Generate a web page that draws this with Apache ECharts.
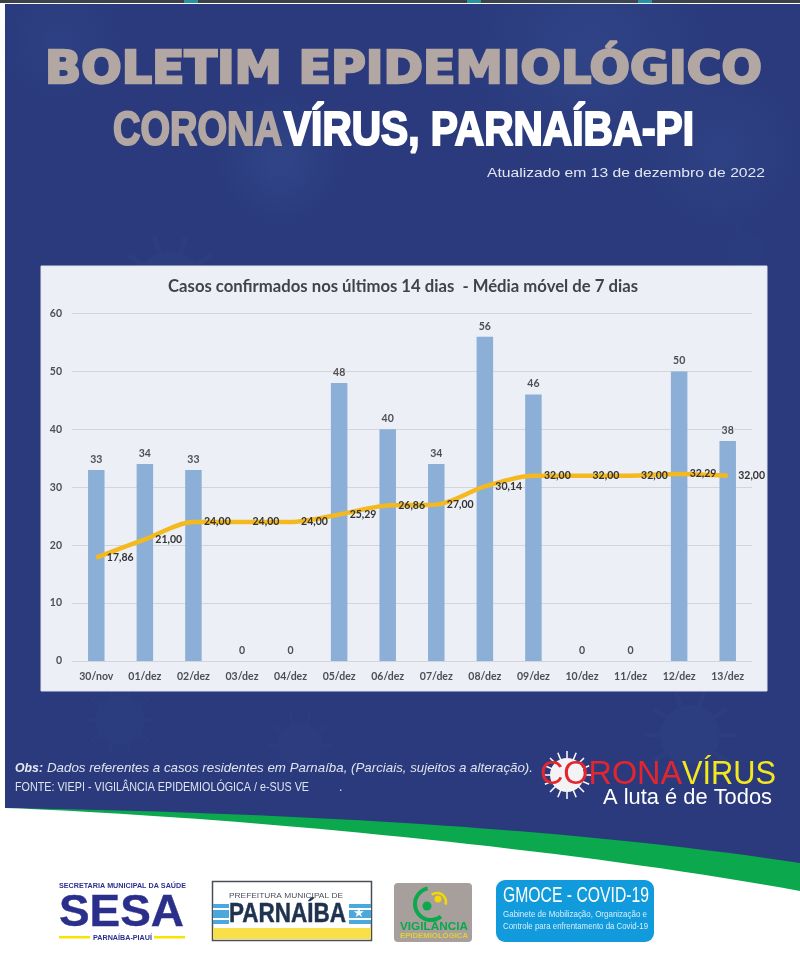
<!DOCTYPE html>
<html><head><meta charset="utf-8">
<style>html,body{margin:0;padding:0;background:#fff}#c{width:800px;height:980px}</style>
<script src="https://cdn.jsdelivr.net/npm/echarts@6/dist/echarts.min.js"></script>
</head><body><div id="c"></div>
<script>
const categories = ['30/nov','01/dez','02/dez','03/dez','04/dez','05/dez','06/dez','07/dez','08/dez','09/dez','10/dez','11/dez','12/dez','13/dez'];
const casos = [33,34,33,0,0,48,40,34,56,46,0,0,50,38];
const mediaMovel = [17.86,21.00,24.00,24.00,24.00,25.29,26.86,27.00,30.14,32.00,32.00,32.00,32.29,32.00];
const yMin = 0, yMax = 60, yStep = 10;
const chartTitle = 'Casos confirmados nos últimos 14 dias  - Média móvel de 7 dias';

const meas = document.createElement('canvas').getContext('2d');
function fitScale(text, font, w){ meas.font = font; return w / meas.measureText(text).width; }
const SANS = '"Liberation Sans"';
function T(text, x, y, size, fill, o){
  o = o || {};
  const family = o.family || SANS, weight = o.weight || 'normal', fs = o.style || 'normal';
  const font = fs+' '+weight+' '+size+'px '+family;
  const el = {type:'text', x:x, y:y, z:o.z||-5, silent:true,
    style:{text:text, fill:fill, font:font, align:o.align||'left', verticalAlign:'middle', opacity:o.opacity==null?1:o.opacity}};
  if (o.w) { el.scaleX = fitScale(text, font, o.w); el.scaleY = 1; }
  if (o.stroke) { el.style.stroke = o.stroke; el.style.lineWidth = o.lw||1; }
  return el;
}
function R(x,y,w,h,fill,o){ o=o||{};
  return {type:'rect', z:o.z||-8, silent:true, shape:{x:x,y:y,width:w,height:h,r:o.r||0},
    style:{fill:fill, stroke:o.stroke||null, lineWidth:o.lw||0, opacity:o.opacity==null?1:o.opacity}};
}
function P(points,fill,z){ return {type:'polygon', z:z||-9, silent:true, shape:{points:points}, style:{fill:fill}}; }
function Glow(cx,cy,r,op){ return {type:'circle', z:-9, silent:true, shape:{cx:cx,cy:cy,r:r},
  style:{fill:{type:'radial',x:.5,y:.5,r:.5,colorStops:[{offset:0,color:'rgba(70,110,180,'+op+')'},{offset:1,color:'rgba(70,110,180,0)'}]}}}; }
function Virus(cx,cy,r,op){
  const out=[{type:'circle', z:-9, silent:true, shape:{cx:cx,cy:cy,r:r}, style:{fill:'rgba(70,100,170,'+op+')'}}];
  for(let i=0;i<10;i++){const a=i*Math.PI/5;
    out.push({type:'line', z:-9, silent:true, shape:{x1:cx+Math.cos(a)*r,y1:cy+Math.sin(a)*r,x2:cx+Math.cos(a)*r*1.5,y2:cy+Math.sin(a)*r*1.5},
      style:{stroke:'rgba(70,100,170,'+op+')',lineWidth:r*0.16}});}
  return out;
}
function curve(p0,p1,p2,p3){ const o=[]; for(let i=0;i<=40;i++){const t=i/40,u=1-t;
  o.push([0,1].map(k=>u*u*u*p0[k]+3*u*u*t*p1[k]+3*u*t*t*p2[k]+t*t*t*p3[k]));} return o; }

const upperEdge = curve([5,808],[250,812],[550,825],[800,863]);
const lowerEdge = curve([5,808],[200,815],[550,845],[800,891]);

const BLUE = '#2a3a7c';
const deco = [
  R(0,0,800,980,'#ffffff',{z:-10}),
  R(5,4,795,880,BLUE,{z:-10}),
  R(0,0,800,3,'#3c4146',{z:-9}),
  R(184,0,14,3,'#1fb8c4',{z:-9,opacity:.7}), R(467,0,14,3,'#1fb8c4',{z:-9,opacity:.7}), R(638,0,14,3,'#1fb8c4',{z:-9,opacity:.7}),
  Glow(590,50,130,.18), Glow(280,160,70,.2), Glow(720,150,90,.14), Glow(60,40,70,.12),
  ...Virus(170,285,34,.10), ...Virus(120,720,24,.08), ...Virus(690,735,30,.10), ...Virus(300,745,22,.07), ...Virus(745,250,18,.06),
  P(upperEdge.concat([[800,980],[5,980]]),'#0ba84d',-7),
  P(lowerEdge.concat([[800,980],[5,980]]),'#ffffff',-6),
  R(0,808,5,172,'#ffffff',{z:-6}),

  T('BOLETIM EPIDEMIOLÓGICO',45,72,44,'#b3a7a3',{family:'"DejaVu Sans"',weight:'bold',w:717,stroke:'#b3a7a3',lw:2.4}),
  T('CORONA',113,131,49,'#b3a7a3',{weight:'bold',w:169,stroke:'#b3a7a3',lw:2.2}),
  T('VÍRUS, PARNAÍBA-PI',284,131,49,'#ffffff',{weight:'bold',w:410,stroke:'#ffffff',lw:2.2}),
  T('Atualizado em 13 de dezembro de 2022',487,173,13.5,'#e3e7f1',{w:278}),

  R(41,266,726,425,'#eceff6',{stroke:'#dfe3ee',lw:1}),

  T('Obs:',15,769,12.5,'#e6e9f2',{weight:'bold',style:'italic',w:28}),
  T('Dados referentes a casos residentes em Parnaíba, (Parciais, sujeitos a alteração).',47,769,12.2,'#dfe3ee',{style:'italic',w:486}),
  T('FONTE: VIEPI - VIGILÂNCIA EPIDEMIOLÓGICA / e-SUS VE',15,788,12,'#dfe3ee',{w:294}),
  T('.',339,788,12,'#dfe3ee'),

  // logo Coronavírus
  ...Array.from({length:16},(_,i)=>{const a=i*Math.PI/8;return {type:'line',z:-5,silent:true,
    shape:{x1:567+Math.cos(a)*14,y1:775+Math.sin(a)*14,x2:567+Math.cos(a)*24,y2:775+Math.sin(a)*24},style:{stroke:'#ffffff',lineWidth:1.5}};}),
  {type:'circle',z:-5,silent:true,shape:{cx:567,cy:775,r:17},style:{fill:'#f3f3f5'}},
  T('CORONA',540,775,33,'#e3262e',{w:142}),
  T('VÍRUS',682,775,33,'#f4e71d',{w:94}),
  T('A luta é de Todos',603,798,22,'#ffffff',{w:169}),

  // SESA
  T('SECRETARIA MUNICIPAL DA SAÚDE',59,886,8,'#2b2f8c',{weight:'bold',w:127}),
  T('SESA',59,914,44,'#2b2f8c',{weight:'bold',w:125,stroke:'#2b2f8c',lw:.4}),
  R(59,936,31,2.5,'#f6e500',{z:-5}), R(154,936,31,2.5,'#f6e500',{z:-5}),
  T('PARNAÍBA-PIAUÍ',93,938,7.5,'#2b2f8c',{weight:'bold',w:59}),

  // Prefeitura
  R(212.5,881.5,159,59,'#ffffff',{stroke:'#4a4f55',lw:1.5,z:-5}),
  R(213,904,158,20,'#4aa8dc',{z:-5}),
  R(213,908,158,2,'#ffffff',{z:-4}), R(213,918,158,2,'#ffffff',{z:-4}),
  R(213,928,158,11,'#f7e04a',{z:-5}),
  R(229,903,120,23,'#ffffff',{z:-4}),
  T('PREFEITURA MUNICIPAL DE',229,896,8,'#4a4f55',{w:114}),
  T('PARNAÍBA',229,915,27,'#1f3350',{weight:'bold',w:117,z:-3,stroke:'#1f3350',lw:.5}),
  T('★',353,914,13,'#ffffff',{z:-3,family:'"DejaVu Sans"'}),

  // Vigilância
  R(394,883,78,59,'#a69f9b',{r:4,z:-5}),
  {type:'arc',z:-4,silent:true,shape:{cx:431,cy:904,r:16,startAngle:0.9,endAngle:4.5,clockwise:true},style:{stroke:'#0ba84d',lineWidth:4,fill:null}},
  {type:'circle',z:-4,silent:true,shape:{cx:427,cy:906,r:4.5},style:{fill:'#0ba84d'}},
  {type:'circle',z:-4,silent:true,shape:{cx:438,cy:899,r:3.5},style:{fill:'#f5d800'}},
  {type:'arc',z:-4,silent:true,shape:{cx:437,cy:902,r:9,startAngle:-2.2,endAngle:0.3,clockwise:true},style:{stroke:'#f5d800',lineWidth:2.5,fill:null}},
  T('VIGILÂNCIA',400,927,10,'#0ba84d',{weight:'bold',w:68}),
  T('EPIDEMIOLÓGICA',400,936,7.5,'#e3cf3a',{weight:'bold',w:68}),

  // GMOCE
  R(496,880,158,62,'#119bdc',{r:9,z:-5}),
  T('GMOCE - COVID-19',503,896,22,'#ffffff',{w:146}),
  T('Gabinete de Mobilização, Organização e',503,915,9,'#d8eef9',{w:144}),
  T('Controle para enfrentamento da Covid-19',503,927,9,'#d8eef9',{w:145})
];

const FONT = 'Lato';
const chart = echarts.init(document.getElementById('c'), null, {renderer:'canvas', width:800, height:980});
chart.setOption({
  animation:false,
  backgroundColor:'#ffffff',
  graphic:{elements:deco},
  title:{text:chartTitle,left:398,top:273,textAlign:'center',textStyle:{fontFamily:FONT,fontSize:16.7,fontWeight:'bold',color:'#404347'}},
  grid:{left:72,right:48,top:313.5,bottom:319,containLabel:false},
  legend:{show:false},
  xAxis:{type:'category',data:categories,
    axisTick:{show:false},axisLine:{lineStyle:{color:'#d4d5d8',width:1}},
    axisLabel:{fontFamily:FONT,fontSize:10.5,fontWeight:'bold',color:'#4d4f53',margin:10,interval:0}},
  yAxis:{type:'value',min:yMin,max:yMax,interval:yStep,
    axisLine:{show:false},axisTick:{show:false},
    splitLine:{lineStyle:{color:'#d4d5d8',width:1}},
    axisLabel:{fontFamily:FONT,fontSize:10.5,fontWeight:'bold',color:'#4d4f53',margin:10}},
  series:[
    {name:'Casos confirmados',type:'bar',data:casos,barWidth:16.5,z:2,
     itemStyle:{color:'#8cafd8'},
     label:{show:true,position:'top',distance:5,fontFamily:FONT,fontSize:10.5,fontWeight:'bold',color:'#4d4f53'}},
    {name:'Média móvel de 7 dias',type:'line',data:mediaMovel,smooth:0.3,z:3,
     symbol:'circle',symbolSize:1,itemStyle:{color:'#f3b91f'},
     lineStyle:{color:'#f3b91f',width:4.5},
     label:{show:true,position:'right',distance:10,fontFamily:FONT,fontSize:10.5,fontWeight:'bold',color:'#333333',
       formatter:p=>p.value.toFixed(2).replace('.',',')}}
  ]
});
</script></body></html>
